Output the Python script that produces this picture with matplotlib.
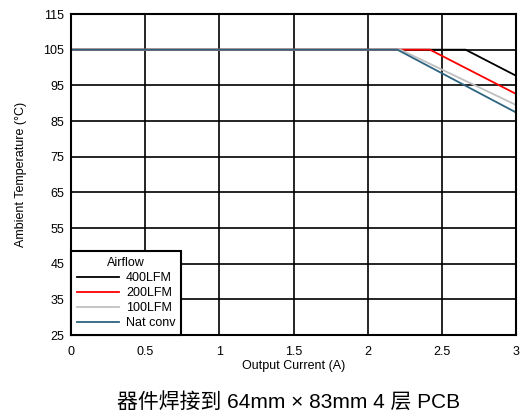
import matplotlib
matplotlib.use("Agg")
import matplotlib.pyplot as plt

plt.rcParams['font.family'] = ['Liberation Sans', 'DejaVu Sans']

# --- Datos ---
current_400 = [0, 2.66, 3.0]
temp_400 = [105, 105, 97.7]
current_200 = [0, 2.42, 3.0]
temp_200 = [105, 105, 92.6]
current_100 = [0, 2.22, 3.0]
temp_100 = [105, 105, 89.5]
current_nat = [0, 2.20, 3.0]
temp_nat = [105, 105, 87.4]

x_ticks = [0, 0.5, 1, 1.5, 2, 2.5, 3]
x_tick_labels = ['0', '0.5', '1', '1.5', '2', '2.5', '3']
y_ticks = [25, 35, 45, 55, 65, 75, 85, 95, 105, 115]

fig = plt.figure(figsize=(5.21, 4.17), dpi=100)
ax = fig.add_axes([0.1363, 0.1966, 0.8541, 0.7698])

ax.plot(current_400, temp_400, color='black', lw=1.3, label='400LFM')
ax.plot(current_200, temp_200, color='#ff0000', lw=1.3, label='200LFM')
ax.plot(current_100, temp_100, color='#c0c0c0', lw=1.3, label='100LFM')
ax.plot(current_nat, temp_nat, color='#2e6480', lw=1.3, label='Nat conv')

ax.set_xlim(0, 3)
ax.set_ylim(25, 115)
ax.set_xticks(x_ticks, labels=x_tick_labels)
ax.set_yticks(y_ticks)
ax.tick_params(axis='y', length=0, labelsize=9, pad=5)
ax.tick_params(axis='x', length=0, labelsize=9, pad=8)
ax.grid(True, color='black', lw=1.2)
ax.set_axisbelow(True)
for s in ax.spines.values():
    s.set_linewidth(1.5)

ax.set_xlabel('Output Current (A)', fontsize=9, labelpad=1)
ax.set_ylabel('Ambient Temperature (°C)', fontsize=9, labelpad=12)

# leyenda con título, marco negro de esquinas rectas
leg = ax.legend(title='Airflow', loc='lower left', fontsize=9, title_fontsize=9,
                fancybox=False, framealpha=1, edgecolor='black', borderaxespad=0.0,
                handlelength=3.4, handletextpad=0.55, labelspacing=0.25, borderpad=0.45)
leg.get_frame().set_linewidth(1.5)

# pie de figura
fig.text(0.5547, 0.036, '器件焊接到 64mm × 83mm 4 层 PCB', ha='center', va='center',
         fontsize=15, family=['Liberation Sans', 'Noto Sans CJK SC'])

fig.savefig('out.png', dpi=100)
